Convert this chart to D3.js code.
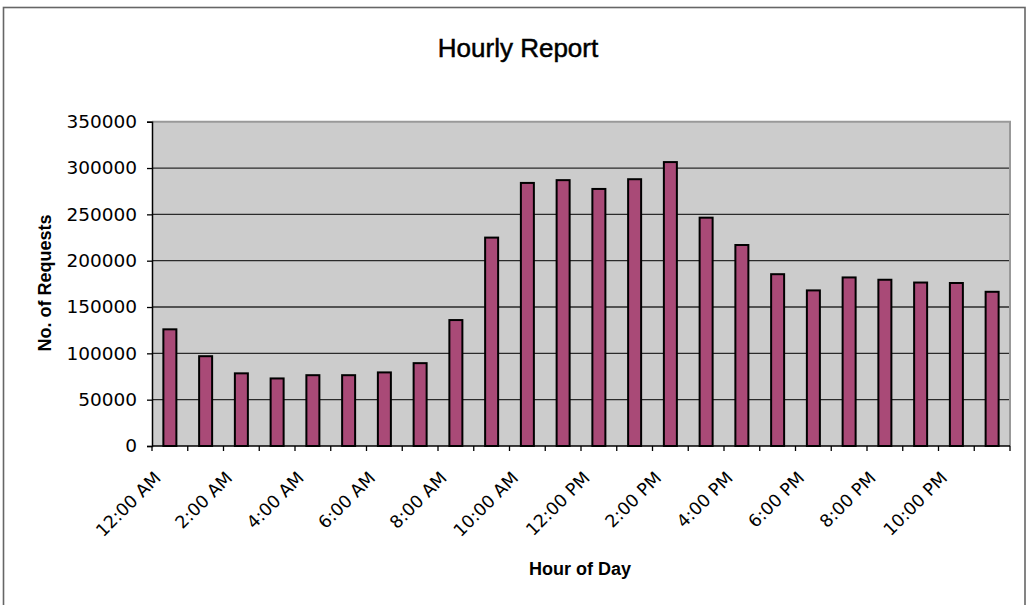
<!DOCTYPE html>
<html>
<head>
<meta charset="utf-8">
<script src="https://cdn.jsdelivr.net/npm/d3@7"></script>
<style>
  html, body { margin: 0; padding: 0; background: #fff; }
  svg { display: block; }
</style>
</head>
<body>
<script>
// ---- Data ----
const hours = ["12:00 AM","1:00 AM","2:00 AM","3:00 AM","4:00 AM","5:00 AM","6:00 AM","7:00 AM",
  "8:00 AM","9:00 AM","10:00 AM","11:00 AM","12:00 PM","1:00 PM","2:00 PM","3:00 PM",
  "4:00 PM","5:00 PM","6:00 PM","7:00 PM","8:00 PM","9:00 PM","10:00 PM","11:00 PM"];
const requests = [127000, 98000, 79500, 74000, 77500, 77500, 80500, 90500,
  137000, 226000, 285000, 288000, 278500, 289000, 307500, 247500,
  218000, 186500, 169000, 183000, 180500, 177500, 177000, 167500];
const yTicks = [0, 50000, 100000, 150000, 200000, 250000, 300000, 350000];
const chartTitle = "Hourly Report";
const xTitle = "Hour of Day";
const yTitle = "No. of Requests";

// ---- Layout ----
const W = 1034, H = 605;
const plot = { left: 152, right: 1010, top: 121.7, bottom: 446 };

const svg = d3.select("body").append("svg").attr("width", W).attr("height", H);

// outer chart border
svg.append("rect")
  .attr("x", 3.5).attr("y", 7.5).attr("width", 1025 - 3.5).attr("height", 620)
  .attr("fill", "#fff").attr("stroke", "#666").attr("stroke-width", 1.6);

const x = d3.scaleBand().domain(hours).range([plot.left, plot.right]).padding(0);
const xb = d3.scaleLinear().domain([0, hours.length]).range([plot.left, plot.right]);
const y = d3.scaleLinear().domain([0, 350000]).range([plot.bottom, plot.top]);

// plot background
svg.append("rect")
  .attr("x", plot.left).attr("y", plot.top)
  .attr("width", plot.right - plot.left).attr("height", plot.bottom - plot.top)
  .attr("fill", "#cccccc");

// gridlines
svg.append("g").selectAll("line")
  .data(yTicks.filter(d => d > 0 && d < 350000))
  .join("line")
  .attr("x1", plot.left).attr("x2", plot.right)
  .attr("y1", d => y(d)).attr("y2", d => y(d))
  .attr("stroke", "#2a2a2a").attr("stroke-width", 1.3);

// top and right border (grey)
svg.append("path")
  .attr("d", `M${plot.left},${plot.top}H${plot.right}V${plot.bottom}`)
  .attr("fill", "none").attr("stroke", "#999").attr("stroke-width", 2);

// bars
const barW = 13;
svg.append("g").selectAll("rect")
  .data(requests)
  .join("rect")
  .attr("x", (d, i) => x(hours[i]) + x.bandwidth() / 2 - barW / 2)
  .attr("y", d => y(d) + 1)
  .attr("width", barW)
  .attr("height", d => plot.bottom - y(d) - 1)
  .attr("fill", "#a94a77")
  .attr("stroke", "#000").attr("stroke-width", 2);

// y axis
const yAxis = svg.append("g")
  .attr("transform", `translate(${plot.left},0)`)
  .call(d3.axisLeft(y).tickValues(yTicks).tickSize(5).tickPadding(10).tickFormat(d3.format("d")));
yAxis.select(".domain").attr("stroke", "#000").attr("stroke-width", 1.5);
yAxis.selectAll(".tick line").attr("stroke", "#000").attr("stroke-width", 1.3);
yAxis.selectAll("text")
  .attr("font-family", "'DejaVu Sans', sans-serif").attr("font-size", 18.5).attr("fill", "#000");

// x axis line
svg.append("line")
  .attr("x1", plot.left).attr("x2", plot.right)
  .attr("y1", plot.bottom).attr("y2", plot.bottom)
  .attr("stroke", "#000").attr("stroke-width", 1.5);

// x ticks at category boundaries
svg.append("g").selectAll("line")
  .data(d3.range(hours.length + 1))
  .join("line")
  .attr("x1", d => xb(d)).attr("x2", d => xb(d))
  .attr("y1", plot.bottom).attr("y2", plot.bottom + 5)
  .attr("stroke", "#000").attr("stroke-width", 1.3);

// x labels (every 2nd), rotated -45
svg.append("g").selectAll("text")
  .data(hours.filter((d, i) => i % 2 === 0))
  .join("text")
  .attr("transform", d => `translate(${x(d) + x.bandwidth() / 2 - 8},${plot.bottom + 33}) rotate(-45)`)
  .attr("text-anchor", "end")
  .attr("font-family", "'DejaVu Sans', sans-serif").attr("font-size", 17.5)
  .attr("fill", "#000")
  .text(d => d);

// titles
svg.append("text")
  .attr("x", 518).attr("y", 57)
  .attr("text-anchor", "middle")
  .attr("font-family", "'Liberation Sans', Arial, sans-serif").attr("font-size", 26)
  .attr("fill", "#000").attr("stroke", "#000").attr("stroke-width", 0.5)
  .text(chartTitle);

svg.append("text")
  .attr("x", 580).attr("y", 575)
  .attr("text-anchor", "middle")
  .attr("font-family", "'Liberation Sans', Arial, sans-serif").attr("font-size", 18)
  .attr("font-weight", "bold").attr("fill", "#000")
  .text(xTitle);

svg.append("text")
  .attr("transform", `translate(51,${283}) rotate(-90)`)
  .attr("text-anchor", "middle")
  .attr("font-family", "'Liberation Sans', Arial, sans-serif").attr("font-size", 18)
  .attr("font-weight", "bold").attr("fill", "#000")
  .text(yTitle);
</script>
</body>
</html>
